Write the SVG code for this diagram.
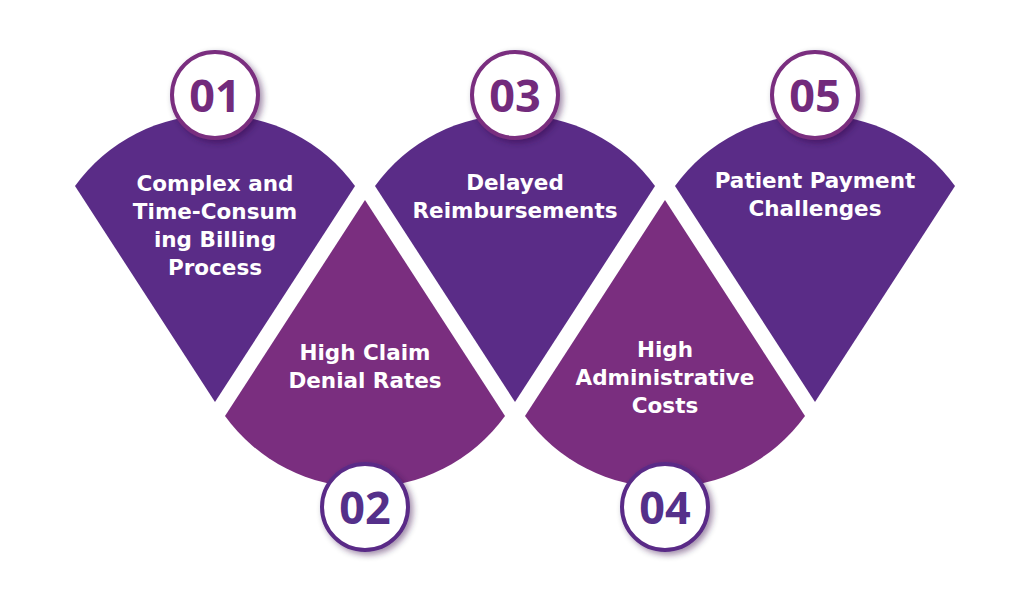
<svg xmlns="http://www.w3.org/2000/svg" width="1024" height="597" viewBox="0 0 1024 597">
<defs>
<style>
.dn{fill:#5A2C87}
.up{fill:#7A2E7F}
.ringM{fill:#FFFFFF;stroke:#7A2E7F;stroke-width:4}
.ringI{fill:#FFFFFF;stroke:#5A2C87;stroke-width:4}
.lbl{font-family:"DejaVu Sans","Open Sans",sans-serif;font-weight:700;font-size:21.5px;fill:#FFFFFF;text-anchor:middle}
.num{font-family:"Open Sans","Liberation Sans",sans-serif;font-weight:700;font-size:45px;text-anchor:middle}
.nM{fill:#722B7C}
.nI{fill:#55308A}
</style>
<filter id="sh" x="-30%" y="-30%" width="160%" height="160%">
<feDropShadow dx="3" dy="3" stdDeviation="3" flood-color="#2a1040" flood-opacity="0.45"/>
</filter>
</defs>
<rect width="1024" height="597" fill="#FFFFFF"/>

<g id="node-01">
<path class="dn" d="M75,186 A173,173 0 0 1 355,186 L215,402 Z"/>
<circle class="ringM" cx="215" cy="95" r="43" filter="url(#sh)"/>
<text class="num nM" x="215" y="112">01</text>
<text class="lbl" x="215" y="191">Complex and</text>
<text class="lbl" x="215" y="219">Time-Consum</text>
<text class="lbl" x="215" y="247">ing Billing</text>
<text class="lbl" x="215" y="275">Process</text>
</g>

<g id="node-02">
<path class="up" d="M225,416 A173,173 0 0 0 505,416 L365,200 Z"/>
<circle class="ringI" cx="365" cy="507" r="43" filter="url(#sh)"/>
<text class="num nI" x="365" y="524">02</text>
<text class="lbl" x="365" y="360">High Claim</text>
<text class="lbl" x="365" y="388">Denial Rates</text>
</g>

<g id="node-03">
<path class="dn" d="M375,186 A173,173 0 0 1 655,186 L515,402 Z"/>
<circle class="ringM" cx="515" cy="95" r="43" filter="url(#sh)"/>
<text class="num nM" x="515" y="112">03</text>
<text class="lbl" x="515" y="190">Delayed</text>
<text class="lbl" x="515" y="218">Reimbursements</text>
</g>

<g id="node-04">
<path class="up" d="M525,416 A173,173 0 0 0 805,416 L665,200 Z"/>
<circle class="ringI" cx="665" cy="507" r="43" filter="url(#sh)"/>
<text class="num nI" x="665" y="524">04</text>
<text class="lbl" x="665" y="357">High</text>
<text class="lbl" x="665" y="385">Administrative</text>
<text class="lbl" x="665" y="413">Costs</text>
</g>

<g id="node-05">
<path class="dn" d="M675,186 A173,173 0 0 1 955,186 L815,402 Z"/>
<circle class="ringM" cx="815" cy="95" r="43" filter="url(#sh)"/>
<text class="num nM" x="815" y="112">05</text>
<text class="lbl" x="815" y="188">Patient Payment</text>
<text class="lbl" x="815" y="216">Challenges</text>
</g>
</svg>
